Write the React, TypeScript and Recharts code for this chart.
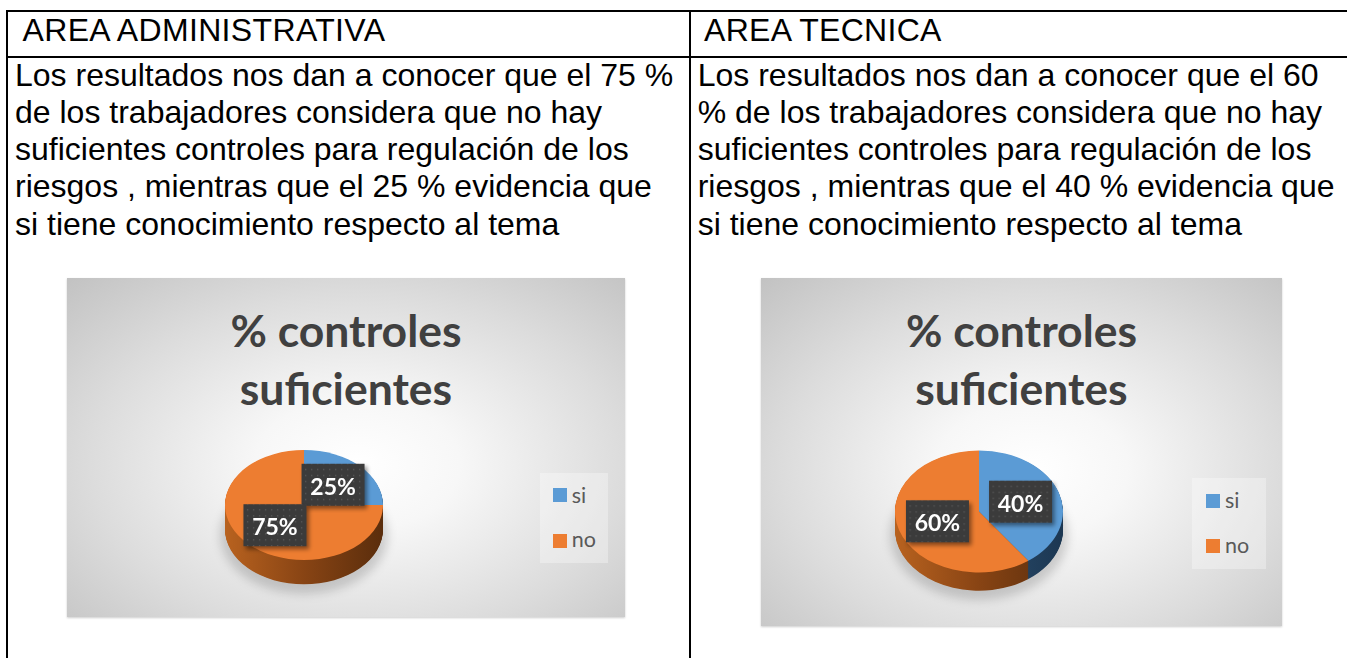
import React from 'react';
import { PieChart, Pie, Cell } from 'recharts';

// ---------- data ----------
const categories = ['si', 'no'];
const adminValues = [25, 75];
const tecnicaValues = [40, 60];
const sliceColors = ['#5B9BD5', '#ED7D31'];
const sideColors = [
  ['#3f6f9c', '#2a4d6e', '#1c3752'],
  ['#b8621f', '#884414', '#5a2d0c'],
];
const chartTitle = ['% controles', 'suficientes'];
const headers = ['AREA ADMINISTRATIVA', 'AREA TECNICA'];
const adminText = [
  'Los resultados nos dan a conocer que el 75 %',
  'de los trabajadores considera que no hay',
  'suficientes controles para regulación de los',
  'riesgos , mientras que el 25 % evidencia que',
  'si tiene conocimiento respecto al tema',
];
const tecnicaText = [
  'Los resultados nos dan a conocer que el 60',
  '% de los trabajadores considera que no hay',
  'suficientes controles para regulación de los',
  'riesgos , mientras que el 40 % evidencia que',
  'si tiene conocimiento respecto al tema',
];

type Box = { left: number; top: number; width: number; height: number };
type PieGeo = { cx: number; cy: number; rx: number; ry: number; depth: number };
type LegendGeo = { left: number; top: number; width: number; height: number; sqLeft: number; sqTops: number[]; textLeft: number; textTops: number[] };

const RAD = Math.PI / 180;

function Chart3D(props: { id: string; values: number[]; box: Box; pie: PieGeo; legend: LegendGeo; titleTop: number }) {
  const { id, values, box, pie, legend, titleTop } = props;
  const k = pie.ry / pie.rx;
  const data = categories.map((name, i) => ({ name, value: values[i] }));
  const hPre = box.height / k;
  const cyPre = pie.cy / k;
  const depthPre = pie.depth / k;
  const layers: number[] = [];
  for (let j = Math.ceil(depthPre); j >= 1; j--) layers.push(j);

  const renderLabel = (p: any) => {
    const { cx, cy, midAngle, outerRadius, value } = p;
    const r = outerRadius * 0.52;
    const x = cx + r * Math.cos(-midAngle * RAD);
    const y = cy + r * Math.sin(-midAngle * RAD);
    return (
      <g transform={`translate(${x},${y}) scale(1,${1 / k})`}>
        <rect x={-29} y={-18} width={63} height={42} fill="#000" opacity={0.45} filter={`url(#${id}-blur)`} />
        <rect x={-31.5} y={-21} width={63} height={42} fill={`url(#${id}-dots)`} />
        <text x={0} y={10} textAnchor="middle" fill="#ffffff" fontFamily="Lato" fontWeight={700} fontSize={23}>
          {`${value}%`}
        </text>
      </g>
    );
  };

  return (
    <div
      style={{
        position: 'absolute',
        left: box.left,
        top: box.top,
        width: box.width,
        height: box.height,
        overflow: 'hidden',
        background: 'radial-gradient(ellipse farthest-corner at 52% 55%, #ffffff 0%, #f7f7f7 25%, #dcdcdc 65%, #c2c2c2 100%)',
        boxShadow: '0 1px 2px rgba(0,0,0,0.2)',
      }}
    >
      {/* title */}
      <div
        style={{
          position: 'absolute',
          left: 0,
          top: titleTop,
          width: box.width,
          textAlign: 'center',
          fontFamily: 'Lato',
          fontWeight: 700,
          fontSize: 44.5,
          lineHeight: '58px',
          color: '#404040',
          whiteSpace: 'pre',
        }}
      >
        {chartTitle.map((t, i) => (
          <div key={i}>{t}</div>
        ))}
      </div>
      {/* soft shadow under the pie */}
      <div
        style={{
          position: 'absolute',
          left: pie.cx - pie.rx - 5,
          top: pie.cy - pie.ry + pie.depth + 2,
          width: pie.rx * 2 + 10,
          height: pie.ry * 2 + 8,
          borderRadius: '50%',
          background: 'rgba(0,0,0,0.16)',
          filter: 'blur(5px)',
        }}
      />
      <div
        style={{
          position: 'absolute',
          left: 0,
          top: 0,
          width: box.width,
          height: hPre,
          transform: `scaleY(${k})`,
          transformOrigin: '0 0',
        }}
      >
        <PieChart width={box.width} height={hPre} margin={{ top: 0, right: 0, bottom: 0, left: 0 }}>
          <defs>
            {sideColors.map((c, i) => (
              <linearGradient
                key={i}
                id={`${id}-side${i}`}
                gradientUnits="userSpaceOnUse"
                x1={pie.cx - pie.rx}
                y1={0}
                x2={pie.cx + pie.rx}
                y2={0}
              >
                <stop offset="0%" stopColor={c[0]} />
                <stop offset="50%" stopColor={c[1]} />
                <stop offset="100%" stopColor={c[2]} />
              </linearGradient>
            ))}
            <pattern id={`${id}-dots`} width={6} height={6} patternUnits="userSpaceOnUse">
              <rect width={6} height={6} fill="#3b3b3b" />
              <rect x={2} y={2} width={1.3} height={1.3} fill="#595959" />
            </pattern>
            <filter id={`${id}-blur`} x="-20%" y="-20%" width="140%" height="140%">
              <feGaussianBlur stdDeviation={2} />
            </filter>
          </defs>
          {layers.map((j) => (
            <Pie
              key={`side-${j}`}
              data={data}
              dataKey="value"
              nameKey="name"
              cx={pie.cx}
              cy={cyPre + j}
              outerRadius={pie.rx}
              startAngle={90}
              endAngle={-270}
              stroke="none"
              label={false}
              labelLine={false}
              isAnimationActive={false}
            >
              {data.map((d, i) => (
                <Cell key={d.name} fill={`url(#${id}-side${i})`} stroke="none" />
              ))}
            </Pie>
          ))}
          <Pie
            data={data}
            dataKey="value"
            nameKey="name"
            cx={pie.cx}
            cy={cyPre}
            outerRadius={pie.rx}
            startAngle={90}
            endAngle={-270}
            stroke="none"
            label={renderLabel}
            labelLine={false}
            isAnimationActive={false}
          >
            {data.map((d, i) => (
              <Cell key={d.name} fill={sliceColors[i]} stroke="none" />
            ))}
          </Pie>
        </PieChart>
      </div>
      {/* legend */}
      <div
        style={{
          position: 'absolute',
          left: legend.left,
          top: legend.top,
          width: legend.width,
          height: legend.height,
          background: 'rgba(255,255,255,0.32)',
        }}
      />
      {categories.map((c, i) => (
        <React.Fragment key={c}>
          <div
            style={{
              position: 'absolute',
              left: legend.sqLeft,
              top: legend.sqTops[i],
              width: 13.5,
              height: 13.5,
              background: sliceColors[i],
            }}
          />
          <div
            style={{
              position: 'absolute',
              left: legend.textLeft,
              top: legend.textTops[i],
              fontFamily: 'Lato',
              fontSize: 21.5,
              lineHeight: '21px',
              color: '#595959',
              whiteSpace: 'pre',
            }}
          >
            {c}
          </div>
        </React.Fragment>
      ))}
    </div>
  );
}

const textStyle: React.CSSProperties = {
  position: 'absolute',
  fontFamily: '"Liberation Sans", Arial, sans-serif',
  fontSize: 32,
  lineHeight: '37.25px',
  color: '#000',
  whiteSpace: 'pre',
};

function Line(props: { left: number; top: number; width: number; height: number }) {
  return <div style={{ position: 'absolute', background: '#000', ...props }} />;
}

export default function App() {
  return (
    <div
      style={{
        position: 'absolute',
        left: 0,
        top: 0,
        width: 1347,
        height: 658,
        overflow: 'hidden',
        background: '#ffffff',
      }}
    >
      {/* table lines */}
      <Line left={6} top={10} width={1341} height={2} />
      <Line left={6} top={56} width={1341} height={2} />
      <Line left={6} top={10} width={2} height={648} />
      <Line left={689} top={10} width={2} height={648} />

      {/* headers */}
      <div style={{ ...textStyle, left: 22.5, top: 12, letterSpacing: 0.35 }}>{headers[0]}</div>
      <div style={{ ...textStyle, left: 704, top: 12, letterSpacing: 0.3 }}>{headers[1]}</div>

      {/* body text */}
      <div style={{ ...textStyle, left: 15, top: 56.7 }}>
        {adminText.map((t, i) => (
          <div key={i}>{t}</div>
        ))}
      </div>
      <div style={{ ...textStyle, left: 697.7, top: 56.7 }}>
        {tecnicaText.map((t, i) => (
          <div key={i}>{t}</div>
        ))}
      </div>

      <Chart3D
        id="adm"
        values={adminValues}
        box={{ left: 67, top: 278, width: 558, height: 339 }}
        pie={{ cx: 237, cy: 227, rx: 79, ry: 55, depth: 24 }}
        legend={{
          left: 473,
          top: 195,
          width: 68,
          height: 90,
          sqLeft: 486,
          sqTops: [210, 256],
          textLeft: 504.7,
          textTops: [206.7, 250.7],
        }}
        titleTop={22.8}
      />
      <Chart3D
        id="tec"
        values={tecnicaValues}
        box={{ left: 761, top: 277.5, width: 521, height: 348.5 }}
        pie={{ cx: 218, cy: 233.5, rx: 84, ry: 61, depth: 18 }}
        legend={{
          left: 431,
          top: 200.5,
          width: 74,
          height: 90.5,
          sqLeft: 445,
          sqTops: [216.5, 261.5],
          textLeft: 464,
          textTops: [212.2, 257.2],
        }}
        titleTop={23.3}
      />
    </div>
  );
}
